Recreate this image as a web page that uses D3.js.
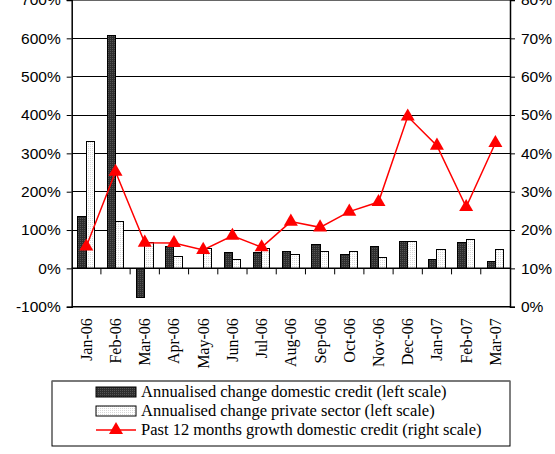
<!DOCTYPE html>
<html><head><meta charset="utf-8">
<script src="https://cdn.jsdelivr.net/npm/d3@7"></script>
<style>body{margin:0;background:#fff}svg{display:block}</style>
</head><body>
<script>
const categories = ["Jan-06","Feb-06","Mar-06","Apr-06","May-06","Jun-06","Jul-06","Aug-06","Sep-06","Oct-06","Nov-06","Dec-06","Jan-07","Feb-07","Mar-07"];
const domesticCredit = [136, 607, -75, 56, 0, 41, 41, 45, 63, 37, 56, 70, 23, 67, 19];
const privateSector = [330, 123, 67, 30, 51, 23, 51, 37, 44, 44, 29, 70, 48, 74, 48];
const growth12m = [15.7, 35.2, 16.7, 16.6, 14.8, 18.5, 15.5, 22.2, 20.7, 24.8, 27.3, 49.6, 42, 26, 42.7];
const leftTicks = [-100, 0, 100, 200, 300, 400, 500, 600, 700];
const rightTicks = [0, 10, 20, 30, 40, 50, 60, 70, 80];
const legendLabels = ["Annualised change domestic credit (left scale)", "Annualised change private sector (left scale)", "Past 12 months growth domestic credit (right scale)"];

const W = 555, H = 454;
const x0 = 71.7, x1 = 510, yTop = 0, yBot = 306.7;
const svg = d3.select("body").append("svg").attr("width", W).attr("height", H);
const defs = svg.append("defs");
const pd = defs.append("pattern").attr("id","pd").attr("width",2).attr("height",2).attr("patternUnits","userSpaceOnUse");
pd.append("rect").attr("width",2).attr("height",2).attr("fill","#2e2e2e");
pd.append("rect").attr("width",1).attr("height",1).attr("fill","#555");
const pw = defs.append("pattern").attr("id","pw").attr("width",2).attr("height",2).attr("patternUnits","userSpaceOnUse");
pw.append("rect").attr("width",2).attr("height",2).attr("fill","#fff");
pw.append("rect").attr("width",1).attr("height",1).attr("fill","#d8d8d8");

const x = d3.scaleBand().domain(categories).range([x0, x1]).paddingInner(0.43).paddingOuter(0.215);
const yL = d3.scaleLinear().domain([-100, 700]).range([yBot, yTop]);
const yR = d3.scaleLinear().domain([0, 80]).range([yBot, yTop]);
const sub = d3.scaleBand().domain(["d","p"]).range([0, x.bandwidth()]);

// gridlines
svg.append("g").selectAll("line").data(leftTicks.filter(t => t !== -100 && t!==0)).join("line")
  .attr("x1", x0).attr("x2", x1).attr("y1", d => yL(d)).attr("y2", d => yL(d))
  .attr("stroke", "#000").attr("stroke-width", 1).attr("shape-rendering","crispEdges");

// bars
const g = svg.append("g");
g.selectAll(".bd").data(domesticCredit).join("rect")
  .attr("x", (d,i) => x(categories[i]) + sub("d")).attr("width", sub.bandwidth())
  .attr("y", d => yL(Math.max(0,d))).attr("height", d => Math.abs(yL(d) - yL(0)))
  .attr("fill","url(#pd)").attr("stroke","#000").attr("stroke-width",1).attr("shape-rendering","crispEdges");
g.selectAll(".bp").data(privateSector).join("rect")
  .attr("x", (d,i) => x(categories[i]) + sub("p")).attr("width", sub.bandwidth())
  .attr("y", d => yL(Math.max(0,d))).attr("height", d => Math.abs(yL(d) - yL(0)))
  .attr("fill","url(#pw)").attr("stroke","#000").attr("stroke-width",1).attr("shape-rendering","crispEdges");

// zero line with category ticks
const xStep = (x1 - x0) / categories.length;
svg.append("line").attr("x1",x0).attr("x2",x1).attr("y1",yL(0)).attr("y2",yL(0)).attr("stroke","#000").attr("stroke-width",1.5);
svg.append("g").selectAll("line").data(d3.range(1, categories.length)).join("line")
  .attr("x1", i => x0 + i*xStep).attr("x2", i => x0 + i*xStep).attr("y1", yL(0)).attr("y2", yL(0)+6)
  .attr("stroke","#000");
// bottom border
svg.append("line").attr("x1",x0).attr("x2",x1).attr("y1",yBot).attr("y2",yBot).attr("stroke","#000").attr("stroke-width",1.5);
svg.append("line").attr("x1",x0).attr("x2",x1).attr("y1",0.5).attr("y2",0.5).attr("stroke","#666").attr("stroke-width",1);

// axes
const axL = svg.append("g").attr("transform",`translate(${x0},0)`)
  .call(d3.axisLeft(yL).tickValues(leftTicks).tickSize(5).tickPadding(6).tickFormat(d => d + "%"));
const axR = svg.append("g").attr("transform",`translate(${x1},0)`)
  .call(d3.axisRight(yR).tickValues(rightTicks).tickSize(5).tickPadding(6).tickFormat(d => d + "%"));
[axL, axR].forEach(a => {
  a.select(".domain").attr("stroke","#000").attr("stroke-width",1.5);
  a.selectAll("text").attr("font-family","'Liberation Sans', Arial, sans-serif").attr("font-size","15.5px").attr("fill","#000");
});

// category labels
svg.append("g").selectAll("text").data(categories).join("text")
  .attr("transform", d => `translate(${x(d) + x.bandwidth()/2 + 5.5},${yBot + 11.5}) rotate(-90)`)
  .attr("text-anchor","end")
  .attr("font-family","'Liberation Serif', 'Times New Roman', serif").attr("font-size","16px")
  .text(d => d);

// line
const cx = c => x(c) + x.bandwidth()/2;
svg.append("path").datum(growth12m)
  .attr("d", d3.line().x((d,i) => cx(categories[i])).y(d => yR(d)))
  .attr("fill","none").attr("stroke","#ff0000").attr("stroke-width",1.5);
const tri = d3.symbol().type(d3.symbolTriangle).size(85);
svg.append("g").selectAll("path").data(growth12m).join("path")
  .attr("transform", (d,i) => `translate(${cx(categories[i])},${yR(d)})`)
  .attr("d", tri).attr("fill","#ff0000");

// legend
const lg = svg.append("g");
lg.append("rect").attr("x",52).attr("y",381).attr("width",458).attr("height",65)
  .attr("fill","#fff").attr("stroke","#000").attr("stroke-width",1);
lg.append("line").attr("x1",52).attr("x2",510).attr("y1",381).attr("y2",381).attr("stroke","#777").attr("stroke-width",1.5);
const rows = [392, 411, 430];
lg.append("rect").attr("x",96).attr("y",rows[0]-5).attr("width",40).attr("height",10).attr("fill","url(#pd)").attr("stroke","#000");
lg.append("rect").attr("x",96).attr("y",rows[1]-5).attr("width",40).attr("height",10).attr("fill","url(#pw)").attr("stroke","#000");
lg.append("line").attr("x1",96).attr("x2",136).attr("y1",rows[2]).attr("y2",rows[2]).attr("stroke","#ff0000").attr("stroke-width",1.5);
lg.append("path").attr("transform",`translate(116,${rows[2]})`).attr("d",tri).attr("fill","#ff0000");
lg.selectAll("text").data(legendLabels).join("text")
  .attr("x",141).attr("y",(d,i) => rows[i] + 5)
  .attr("font-family","'Liberation Serif', 'Times New Roman', serif").attr("font-size","16.5px")
  .text(d => d);
</script>
</body></html>
